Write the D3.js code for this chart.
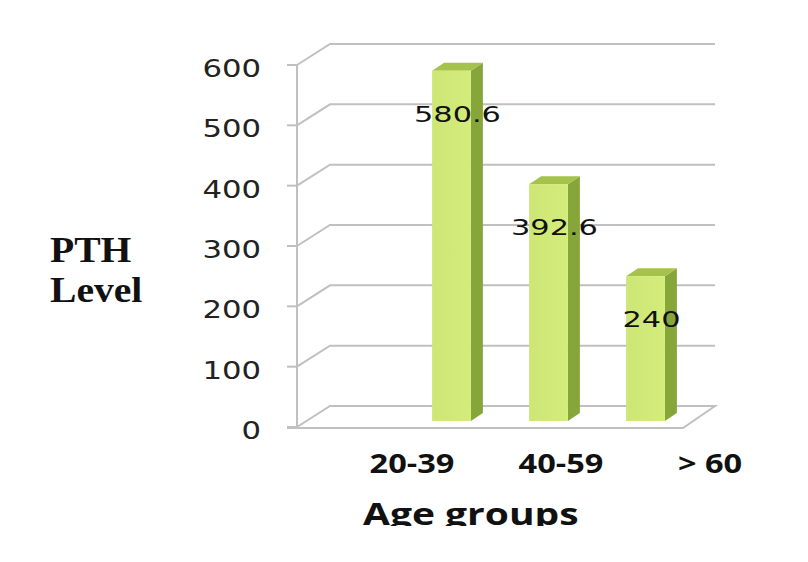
<!DOCTYPE html>
<html><head><meta charset="utf-8">
<script src="https://cdn.jsdelivr.net/npm/d3@7"></script>
<style>body{margin:0;background:#fff}svg{display:block}</style>
</head><body>
<svg id="c" width="808" height="562"></svg>
<script>
const categories = ["20-39", "40-59", "> 60"];
const values = [580.6, 392.6, 240];
const yTicks = [0, 100, 200, 300, 400, 500, 600];
const yTitle = ["PTH", "Level"];
const xTitle = "Age groups";

const svg = d3.select("#c");
const W = 808, H = 562;
const grid = "#c0c0c0";
const depthX = 33, depthY = -21;       // wall depth
const front = {x0: 297, x1: 683};
const y = d3.scaleLinear().domain([0, 600]).range([427, 65]);
const barShiftY = -6;
const x = d3.scaleBand().domain(categories).range([403, 694]).paddingInner(0.6).paddingOuter(0.3);
const xLab = d3.scalePoint().domain(categories).range([412, 710]);

// back-wall gridlines + diagonals
yTicks.forEach(t => {
  const yy = y(t);
  if (t > 0) {
    svg.append("path").attr("d", `M${front.x0},${yy}L${front.x0+depthX},${yy+depthY}L${front.x1+depthX-1},${yy+depthY}`)
      .attr("fill", "none").attr("stroke", grid).attr("stroke-width", 2);
  }
});
// floor
const y0 = y(0);
svg.append("path").attr("d",
  `M${front.x0},${y0}L${front.x0+depthX},${y0+depthY}L${front.x1+depthX-1},${y0+depthY}L${front.x1},${y0+1}L${front.x0-10},${y0+1}`)
  .attr("fill", "none").attr("stroke", grid).attr("stroke-width", 2);
// axis line and ticks
svg.append("line").attr("x1", front.x0).attr("x2", front.x0).attr("y1", y(600)).attr("y2", y0)
  .attr("stroke", grid).attr("stroke-width", 2);
yTicks.forEach(t => {
  svg.append("line").attr("x1", front.x0-10).attr("x2", front.x0).attr("y1", y(t)).attr("y2", y(t))
    .attr("stroke", grid).attr("stroke-width", 2);
  svg.append("text").attr("transform", `translate(261,${y(t)+12}) scale(1.28,1)`)
    .attr("text-anchor", "end").attr("font-family", "DejaVu Sans").attr("font-size", 24)
    .attr("fill", "#222").text(t);
});

// bars
const bdx = 12, bdy = -8;
const grad = svg.append("defs").append("linearGradient").attr("id", "gf").attr("x1", 0).attr("x2", 1);
grad.append("stop").attr("offset", 0).attr("stop-color", "#cde676");
grad.append("stop").attr("offset", 1).attr("stop-color", "#d4ec7a");
categories.forEach((c, i) => {
  const v = values[i];
  const bx = x(c), bw = x.bandwidth();
  const top = y(v) + barShiftY, bot = y(0) + barShiftY;
  const g = svg.append("g");
  g.append("path").attr("d", `M${bx+bw},${top}L${bx+bw+bdx},${top+bdy}L${bx+bw+bdx},${bot+bdy}L${bx+bw},${bot}Z`)
    .attr("fill", "#86a63a");
  g.append("path").attr("d", `M${bx},${top}L${bx+bdx},${top+bdy}L${bx+bw+bdx},${top+bdy}L${bx+bw},${top}Z`)
    .attr("fill", "#a4c24c");
  g.append("rect").attr("x", bx).attr("y", top).attr("width", bw).attr("height", bot - top)
    .attr("fill", "url(#gf)");
  svg.append("text").attr("transform", `translate(${bx + bw/2 + 6},${top + 51}) scale(1.38,1)`)
    .attr("text-anchor", "middle").attr("font-family", "DejaVu Sans").attr("font-size", 22)
    .attr("fill", "#111").text(v);
});

// category labels
categories.forEach(c => {
  svg.append("text").attr("transform", `translate(${xLab(c)},473) scale(1.25,1)`)
    .attr("text-anchor", "middle").attr("font-family", "Open Sans").attr("font-weight", "bold")
    .attr("font-size", 26).attr("fill", "#111").text(c);
});

// x title (clipped at bottom like the reference)
svg.append("clipPath").attr("id", "clipT").append("rect").attr("x", 0).attr("y", 0).attr("width", W).attr("height", 526);
svg.append("g").attr("clip-path", "url(#clipT)")
  .append("text")
  .attr("transform", `translate(363,525) scale(1.3,1)`)
  .attr("font-family", "Open Sans").attr("font-weight", "bold").attr("font-size", 30)
  .attr("fill", "#111").text(xTitle);

// y title
yTitle.forEach((t, i) => {
  svg.append("text").attr("transform", `translate(50,${262 + i*40}) scale(1.1,1)`)
    .attr("font-family", "Liberation Serif").attr("font-weight", "bold").attr("font-size", 36)
    .attr("fill", "#111").text(t);
});
</script>
</body></html>
